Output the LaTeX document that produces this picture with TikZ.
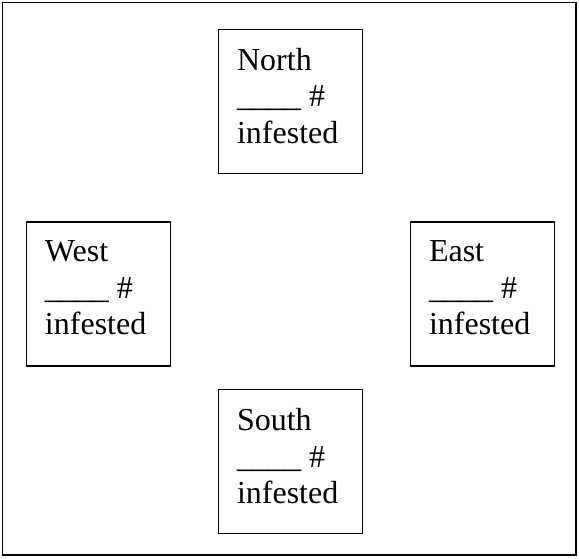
\documentclass[tikz,border=0pt]{standalone}
\usepackage{fontspec}
\setmainfont{Liberation Serif}
\usetikzlibrary{positioning}
\tikzset{
  zonebox/.style={draw, line width=1.4pt, minimum width=144pt, minimum height=144pt, inner sep=0pt},
  zonetext/.style={inner sep=0pt, align=left, font=\fontsize{32}{36.5}\selectfont}
}
\begin{document}
\begin{tikzpicture}[x=1pt,y=-1pt]
\useasboundingbox (0,0) rectangle (579,558);
\draw[line width=1.6pt] (2.5,2.5) rectangle (576,555);

% The four sides of the field
\node[zonebox] (northbox) at (290.6,101.2) {};
\node[zonebox] (westbox) at (98.5,294) {};
\node[zonebox] (eastbox) at (482.5,294) {};
\node[zonebox] (southbox) at (290.5,461.3) {};

\node[zonetext, below right=19.5pt and 19pt of northbox.north west] (northtxt) {North\\\_\_\_\_ \#\\infested};
\node[zonetext, below right=19.5pt and 19pt of westbox.north west] (westtxt) {West\\\_\_\_\_ \#\\infested};
\node[zonetext, below right=19.5pt and 19pt of eastbox.north west] (easttxt) {East\\\_\_\_\_ \#\\infested};
\node[zonetext, below right=19.5pt and 19pt of southbox.north west] (southtxt) {South\\\_\_\_\_ \#\\infested};
\end{tikzpicture}
\end{document}
